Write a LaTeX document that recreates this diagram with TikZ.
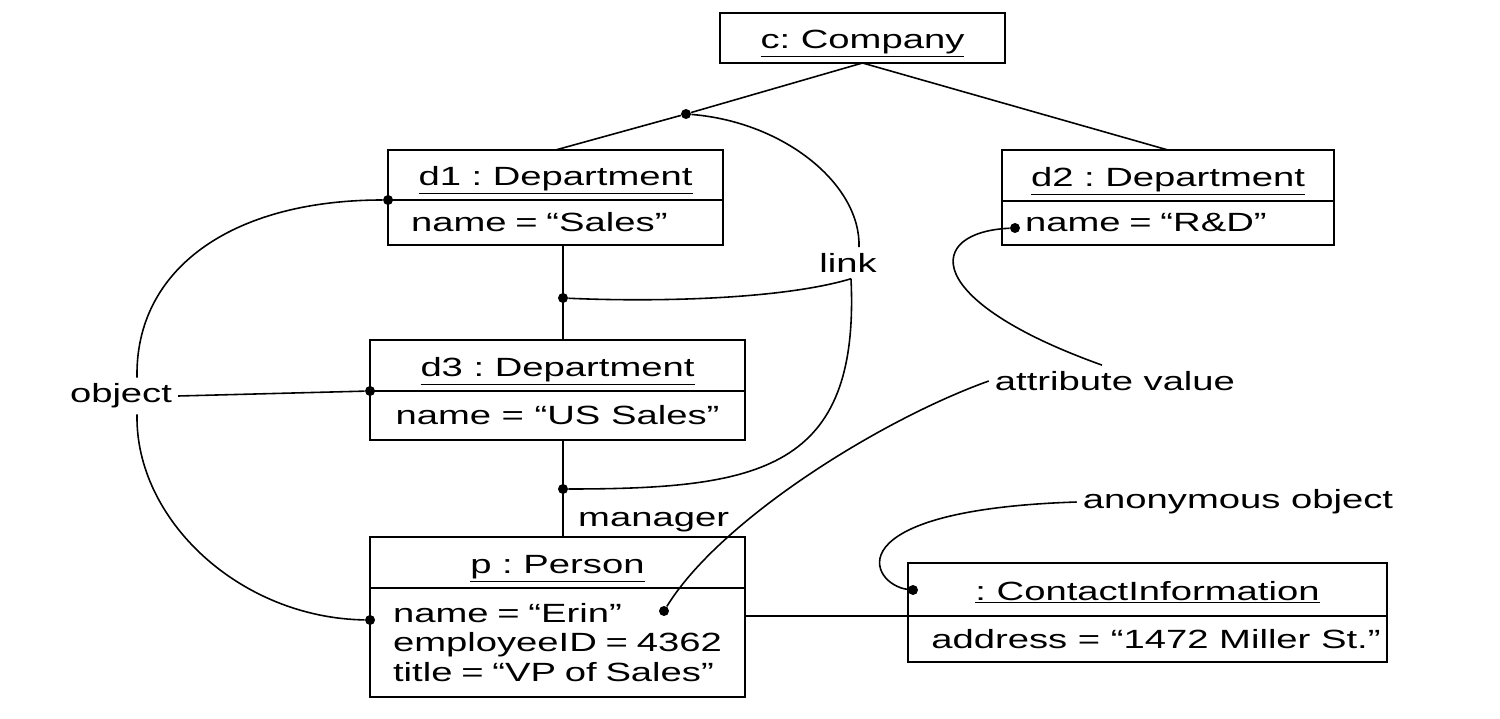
\documentclass[tikz,border=0pt]{standalone}
\usepackage{fontspec}
\setmainfont[FakeStretch=1.45]{Liberation Sans}
\usetikzlibrary{positioning}
\frenchspacing

\begin{document}
\begin{tikzpicture}[x=0.02cm, y=-0.02cm, font=\fontsize{15pt}{17pt}\selectfont,
  objtitle/.style = {draw, line width=1.1pt, outer sep=0pt, inner ysep=0pt, text height=15.5pt, text depth=3.5pt, minimum height=1cm},
  attrbox/.style = {draw, line width=1.1pt, outer sep=0pt, align=left, inner xsep=0.46cm, text width=#1},
  attrwide/.style = {draw, line width=1.1pt, outer sep=0pt, minimum width=#1},
  dot/.style = {circle, fill, inner sep=0pt, minimum size=0.2cm},
  conn/.style = {line width=0.9pt}]
  \useasboundingbox (0,0) rectangle (1500,719);
  % objects
  \node[objtitle, minimum width=5.7cm] (c) at (862.5,38) {\underline{c: Company}};
  \node[objtitle, minimum width=6.7cm] (d1t) at (555.5,175) {\underline{d1 : Department}};
  \node[attrbox=5.78cm, minimum height=0.9cm, below=0pt of d1t] (d1a) {name = “Sales”};
  \node[objtitle, minimum width=6.64cm, minimum height=1.02cm] (d2t) at (1168,175.5) {\underline{d2 : Department}};
  \node[attrbox=5.72cm, minimum height=0.88cm, below=0pt of d2t] (d2a) {name = “R\&D”};
  \node[objtitle, minimum width=7.5cm, minimum height=1.02cm] (d3t) at (557.5,365.5) {\underline{d3 : Department}};
  \node[attrwide=7.5cm, minimum height=0.98cm, below=0pt of d3t] (d3a) {name = “US Sales”};
  \node[objtitle, minimum width=7.5cm, minimum height=1.02cm] (pt) at (557.5,562.5) {\underline{p : Person}};
  \node[attrbox=6.58cm, minimum height=2.18cm, below=0pt of pt] (pa) {name = “Erin”\\ employeeID = 4362\\ title = “VP of Sales”};
  \node[objtitle, minimum width=9.58cm, minimum height=1.06cm] (ct) at (1147.5,589.5) {\underline{: ContactInformation}};
  \node[attrwide=9.58cm, minimum height=0.92cm, below=0pt of ct] (ca) {\hspace*{0.34cm}address = “1472 Miller St.”};
  % dots
  \node[dot] (dl1) at (686,114) {};
  \node[dot] (dl2) at (563,298) {};
  \node[dot] (dl3) at (563,489) {};
  \node[dot] (dd1) at (d1t.south west) {};
  \node[dot] (dd3) at (d3t.south west) {};
  \node[dot] (dp) at (pa.west |- 0,620) {};
  \node[dot] (dd2) at (1015,228) {};
  \node[dot] (de) at (664,611) {};
  \node[dot] (dc) at (913,590) {};
  % notes
  \node (lnk) at (848,263) {link};
  \node (obj) at (121,396) {object};
  \node (attv) at (1115,381) {attribute value};
  \node (anon) at (1238,502) {anonymous object};
  \node[anchor=west] (mgr) at (572,522) {manager};
  % links
  \draw[conn] (c.south) -- (dl1) -- (d1t.north);
  \draw[conn] (c.south) -- (d2t.north);
  \draw[conn] (dl2 |- d1a.south) -- (dl2 |- d3t.north);
  \draw[conn] (dl3 |- d3a.south) -- (dl3 |- pt.north);
  \draw[conn] (pa.east |- ca.north) -- (ca.north west);
  % note lines
  \draw[conn] ([xshift=0.22cm]lnk.north) .. controls (861,185) and (785,122) .. (dl1);
  \draw[conn] ([xshift=0.06cm]lnk.south) .. controls (780,300) and (650,302) .. (dl2);
  \draw[conn] ([xshift=0.06cm]lnk.south) .. controls (860,470) and (760,489) .. (dl3);
  \draw[conn] ([xshift=0.32cm]obj.north) .. controls (135,270) and (230,200) .. (dd1);
  \draw[conn] ([xshift=0.32cm]obj.south) .. controls (135,520) and (240,618) .. (dp);
  \draw[conn] (obj.east) -- (dd3);
  \draw[conn] ([xshift=-0.26cm]attv.north) .. controls (920,300) and (925,232) .. (dd2);
  \draw[conn] (attv.west) .. controls (880,420) and (720,520) .. (de);
  \draw[conn] (anon.west) .. controls (830,510) and (870,585) .. (dc);
\end{tikzpicture}
\end{document}
